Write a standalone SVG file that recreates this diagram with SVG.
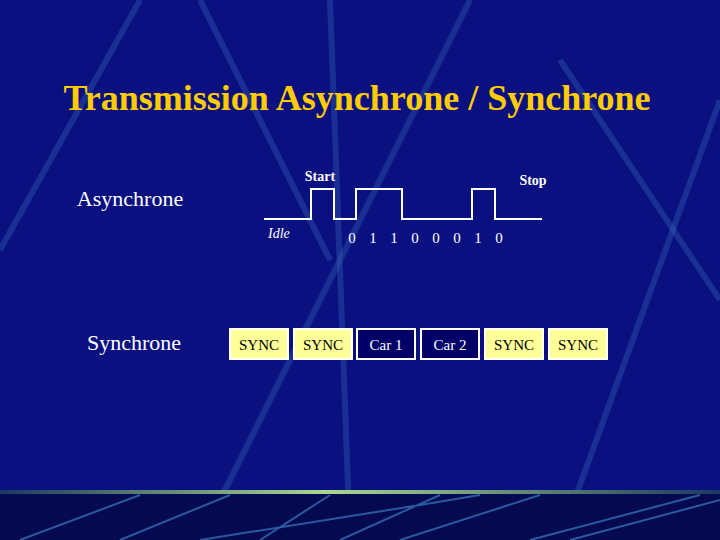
<svg xmlns="http://www.w3.org/2000/svg" width="720" height="540" viewBox="0 0 720 540">
<defs>
<style>
.deco{stroke:#3a6ab8;stroke-width:6;opacity:0.35;fill:none}
.sync{fill:#ffff99;stroke:#ffffff;stroke-width:2}
.car{fill:#000066;stroke:#ffffff;stroke-width:2}
.bt{font-family:"Liberation Serif",serif;font-size:15px;text-anchor:middle}
</style>
<linearGradient id="gl" x1="0" x2="1">
<stop offset="0" stop-color="#1a3a60"/><stop offset="0.45" stop-color="#a8d890"/><stop offset="1" stop-color="#1a3a60"/>
</linearGradient>
</defs>
<rect width="720" height="540" fill="#0a1080"/>
<g id="background">
<path class="deco" d="M0 250 L140 0"/>
<path class="deco" d="M200 0 L330 260"/>
<path class="deco" d="M470 0 L200 540"/>
<path class="deco" d="M560 60 L720 300"/>
<path class="deco" d="M720 100 L560 540"/>
<path class="deco" d="M330 0 L350 540"/>
<rect x="0" y="494" width="720" height="46" fill="#050a50"/>
<path d="M20 540 L140 495 M120 540 L230 495 M260 540 L330 495 M200 540 L420 505 L480 495 M340 540 L440 495 M400 540 L540 495 M530 540 L700 495 M570 540 L720 500" stroke="#3a7ac0" stroke-width="2" opacity="0.7" fill="none"/>
<rect x="0" y="490" width="720" height="4" fill="url(#gl)"/>
</g>
<g id="title"><text x="357" y="110" font-family="Liberation Serif,serif" font-size="36" font-weight="bold" fill="#ffcc00" text-anchor="middle">Transmission Asynchrone / Synchrone</text></g>
<g id="async-label"><text x="130" y="206" font-family="Liberation Serif,serif" font-size="22" fill="#ffffff" text-anchor="middle">Asynchrone</text></g>
<g id="sync-label"><text x="134" y="350" font-family="Liberation Serif,serif" font-size="22" fill="#ffffff" text-anchor="middle">Synchrone</text></g>
<g id="connectors">
<polyline points="264,219 311,219 311,189 334,189 334,219 356,219 356,189 402,189 402,219 472,219 472,189 495,189 495,219 542,219" fill="none" stroke="#ffffff" stroke-width="2"/>
</g>
<g id="wave-labels" font-family="Liberation Serif,serif" fill="#ffffff">
<text x="320" y="181" font-size="14" font-weight="bold" text-anchor="middle">Start</text>
<text x="533" y="185" font-size="14" font-weight="bold" text-anchor="middle">Stop</text>
<text x="268" y="238" font-size="14" font-style="italic">Idle</text>
<text x="352" y="243" font-size="15" text-anchor="middle">0</text>
<text x="373" y="243" font-size="15" text-anchor="middle">1</text>
<text x="394" y="243" font-size="15" text-anchor="middle">1</text>
<text x="415" y="243" font-size="15" text-anchor="middle">0</text>
<text x="436" y="243" font-size="15" text-anchor="middle">0</text>
<text x="457" y="243" font-size="15" text-anchor="middle">0</text>
<text x="478" y="243" font-size="15" text-anchor="middle">1</text>
<text x="499" y="243" font-size="15" text-anchor="middle">0</text>
</g>
<g id="b1"><rect class="sync" x="230" y="329" width="58" height="30"/><text class="bt" x="259" y="350" fill="#000">SYNC</text></g>
<g id="b2"><rect class="sync" x="294" y="329" width="58" height="30"/><text class="bt" x="323" y="350" fill="#000">SYNC</text></g>
<g id="b3"><rect class="car" x="357" y="329" width="58" height="30"/><text class="bt" x="386" y="350" fill="#fff">Car 1</text></g>
<g id="b4"><rect class="car" x="421" y="329" width="58" height="30"/><text class="bt" x="450" y="350" fill="#fff">Car 2</text></g>
<g id="b5"><rect class="sync" x="485" y="329" width="58" height="30"/><text class="bt" x="514" y="350" fill="#000">SYNC</text></g>
<g id="b6"><rect class="sync" x="549" y="329" width="58" height="30"/><text class="bt" x="578" y="350" fill="#000">SYNC</text></g>
</svg>
